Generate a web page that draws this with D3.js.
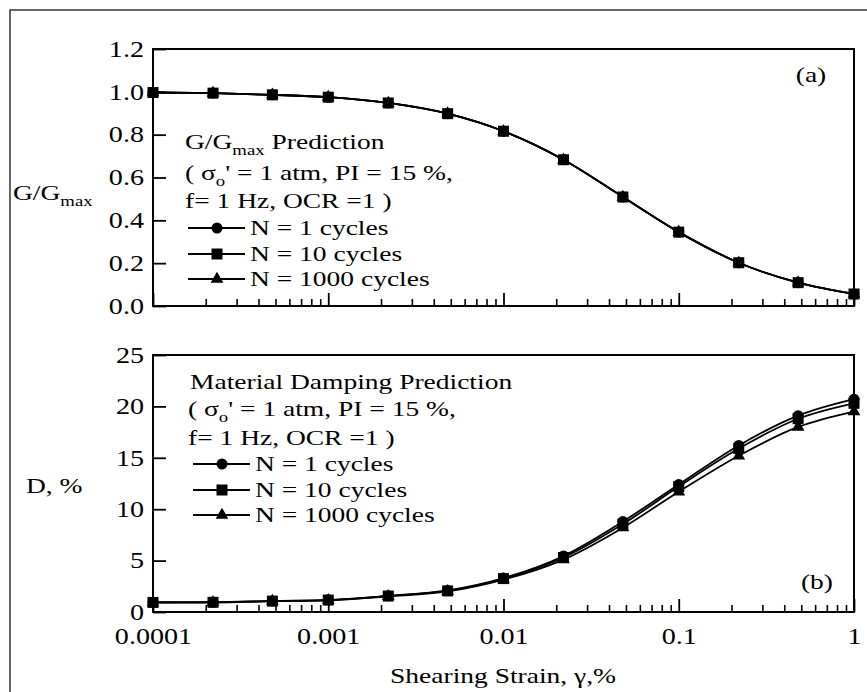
<!DOCTYPE html>
<html>
<head>
<meta charset="utf-8">
<script src="https://cdn.jsdelivr.net/npm/d3@7"></script>
<style>
  body { margin: 0; background: #fff; }
  text { font-family: "Liberation Serif", "Times New Roman", serif; fill: #000; }
</style>
</head>
<body>
<script>
// ----- data -----
const strain = [0.0001, 0.00022, 0.00048, 0.001, 0.0022, 0.0048, 0.01, 0.022, 0.048, 0.1, 0.22, 0.48, 1];

// G/Gmax for N = 1, 10, 1000 (curves lie on top of each other)
const gN1    = [0.997, 0.994, 0.986, 0.975, 0.948, 0.898, 0.816, 0.683, 0.509, 0.345, 0.202, 0.109, 0.056];
const gN10   = [0.997, 0.994, 0.986, 0.975, 0.948, 0.898, 0.816, 0.683, 0.509, 0.345, 0.202, 0.109, 0.056];
const gN1000 = [0.997, 0.994, 0.986, 0.975, 0.948, 0.898, 0.816, 0.683, 0.509, 0.345, 0.202, 0.109, 0.056];

// damping D (%) for N = 1, 10, 1000
const dN1    = [0.95, 0.95, 1.08, 1.18, 1.58, 2.10, 3.30, 5.45, 8.80, 12.40, 16.20, 19.10, 20.70];
const dN10   = [0.93, 0.94, 1.06, 1.16, 1.55, 2.05, 3.25, 5.30, 8.55, 12.20, 15.90, 18.80, 20.30];
const dN1000 = [0.92, 0.93, 1.05, 1.14, 1.52, 2.00, 3.15, 5.10, 8.20, 11.70, 15.20, 18.00, 19.50];

const seriesNames = ['N = 1 cycles', 'N = 10 cycles', 'N = 1000 cycles'];

const xTickVals   = [0.0001, 0.001, 0.01, 0.1, 1];
const xTickLabels = ['0.0001', '0.001', '0.01', '0.1', '1'];
const gTickVals   = [0, 0.2, 0.4, 0.6, 0.8, 1.0, 1.2];
const gTickLabels = ['0.0', '0.2', '0.4', '0.6', '0.8', '1.0', '1.2'];
const dTickVals   = [0, 5, 10, 15, 20, 25];
const dTickLabels = ['0', '5', '10', '15', '20', '25'];

// text in the figure is a bit wider than normal
const SX = 1.25;

const svg = d3.select('body').append('svg')
  .attr('width', 867)
  .attr('height', 692);

// outer frame
svg.append('rect')
  .attr('x', 10).attr('y', 10)
  .attr('width', 880).attr('height', 700)
  .attr('fill', 'none')
  .attr('stroke', '#333')
  .attr('stroke-width', 1.5);

const x = d3.scaleLog().domain([0.0001, 1]).range([153, 854]);
const yG = d3.scaleLinear().domain([0, 1.2]).range([306, 49]);
const yD = d3.scaleLinear().domain([0, 25]).range([612, 355]);

const minorTicks = x.ticks().filter(v => !xTickVals.some(t => Math.abs(Math.log10(v) - Math.log10(t)) < 1e-6));

// helper: text with optional subscript parts, stretched horizontally
function label(g, tx, ty, parts, anchor, size) {
  const t = g.append('text')
    .attr('transform', `translate(${tx},${ty}) scale(${SX},1)`)
    .attr('text-anchor', anchor || 'start')
    .attr('font-size', size || 22);
  let shifted = false;
  parts.forEach(p => {
    const isSub = Array.isArray(p);
    const s = isSub ? p[0] : p;
    const ts = t.append('tspan').text(s);
    if (isSub) {
      ts.attr('font-size', 15).attr('dy', 6);
      shifted = true;
    } else if (shifted) {
      ts.attr('dy', -6);
      shifted = false;
    }
  });
  return t;
}

function stretchTicks(g) {
  g.selectAll('.tick text')
    .attr('font-size', 22.5)
    .attr('transform', `scale(${SX},1)`)
    .attr('x', function () { return (+this.getAttribute('x') || 0) / SX; });
}

function drawPanel(y, top, bottom, yTicks, yLabels, series, showXLabels) {
  const g = svg.append('g');

  // y axis
  const ya = g.append('g')
    .attr('transform', 'translate(153,0)')
    .call(d3.axisLeft(y).tickValues(yTicks).tickFormat((d, i) => yLabels[i])
      .tickSizeInner(-13).tickSizeOuter(0).tickPadding(9));
  ya.select('.domain').remove();
  ya.selectAll('.tick line').attr('stroke-width', 1.8);
  stretchTicks(ya);

  // x axis majors
  const xa = g.append('g')
    .attr('transform', `translate(0,${bottom})`)
    .call(d3.axisBottom(x).tickValues(xTickVals)
      .tickFormat((d, i) => showXLabels ? xTickLabels[i] : '')
      .tickSizeInner(-13).tickSizeOuter(0).tickPadding(16));
  xa.select('.domain').remove();
  xa.selectAll('.tick line').attr('stroke-width', 1.8);
  stretchTicks(xa);

  // x axis minors
  const xm = g.append('g')
    .attr('transform', `translate(0,${bottom})`)
    .call(d3.axisBottom(x).tickValues(minorTicks).tickFormat('')
      .tickSizeInner(-7).tickSizeOuter(0));
  xm.select('.domain').remove();
  xm.selectAll('.tick line').attr('stroke-width', 1.6);

  // frame
  g.append('rect')
    .attr('x', 153).attr('y', top)
    .attr('width', 701).attr('height', bottom - top)
    .attr('fill', 'none')
    .attr('stroke', '#000')
    .attr('stroke-width', 2);

  const line = d3.line()
    .x((d, i) => x(strain[i]))
    .y(d => y(d))
    .curve(d3.curveMonotoneX);

  // draw order: triangles, circles, squares
  const order = [2, 0, 1];
  order.forEach(k => {
    g.append('path')
      .attr('d', line(series[k]))
      .attr('fill', 'none')
      .attr('stroke', '#000')
      .attr('stroke-width', 1.8);
  });
  order.forEach(k => {
    g.selectAll(null)
      .data(series[k])
      .join('path')
      .attr('transform', (d, i) => `translate(${x(strain[i])},${y(d)})`)
      .attr('d', marker(k))
      .attr('fill', '#000');
  });
  return g;
}

function marker(k) {
  if (k === 0) return d3.symbol(d3.symbolCircle, 95)();
  if (k === 1) return d3.symbol(d3.symbolSquare, 121)();
  return d3.symbol(d3.symbolTriangle, 70)();
}

function legend(g, lx, mx, tx, baselines) {
  seriesNames.forEach((name, k) => {
    const yy = baselines[k] - 7;
    g.append('line')
      .attr('x1', lx).attr('x2', lx + 57)
      .attr('y1', yy).attr('y2', yy)
      .attr('stroke', '#000').attr('stroke-width', 1.8);
    g.append('path')
      .attr('transform', `translate(${mx},${yy})`)
      .attr('d', marker(k))
      .attr('fill', '#000');
    label(g, tx, baselines[k], [name]);
  });
}

// ----- panel (a) -----
const pa = drawPanel(yG, 49, 306, gTickVals, gTickLabels, [gN1, gN10, gN1000], false);
label(pa, 185, 149, ['G/G', ['max'], ' Prediction']);
label(pa, 185, 180, ['( \u03c3', ['o'], '\' = 1 atm, PI = 15 %,']);
label(pa, 185, 208, ['f= 1 Hz, OCR =1 )']);
legend(pa, 188, 217, 250, [235, 261, 286]);
label(pa, 811, 82, ['(a)'], 'middle');
label(pa, 13, 200, ['G/G', ['max']]);

// ----- panel (b) -----
const pb = drawPanel(yD, 355, 612, dTickVals, dTickLabels, [dN1, dN10, dN1000], true);
label(pb, 190, 389, ['Material Damping Prediction']);
label(pb, 188, 416, ['( \u03c3', ['o'], '\' = 1 atm, PI = 15 %,']);
label(pb, 188, 445, ['f= 1 Hz, OCR =1 )']);
legend(pb, 193, 222, 255, [471, 497, 522]);
label(pb, 817, 589, ['(b)'], 'middle');
label(pb, 26, 493, ['D, %']);

// x axis title
label(svg, 503, 683, ['Shearing Strain, \u03b3,%'], 'middle');
</script>
</body>
</html>
